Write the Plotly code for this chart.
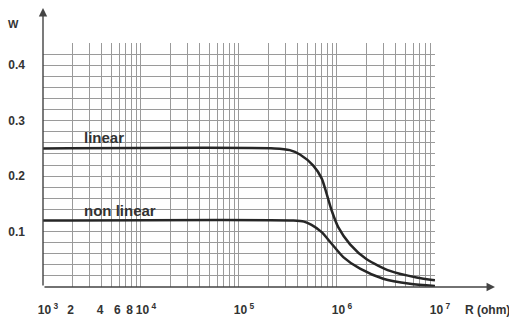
import plotly.graph_objects as go

# ---- data ----
R_linear = [1e3, 2.3e5, 3.3e5, 4.19e5, 5.73e5, 6.98e5, 7.85e5, 8.83e5, 1.03e6,
            1.36e6, 2.01e6, 3.48e6, 6.5e6, 1e7]
W_linear = [0.25, 0.25, 0.247, 0.239, 0.219, 0.196, 0.168, 0.138, 0.108,
            0.077, 0.050, 0.029, 0.017, 0.012]

R_nonlinear = [1e3, 3.6e5, 4.6e5, 5.5e5, 6.98e5, 8.83e5, 1.16e6, 1.72e6, 2.96e6, 5.56e6, 1e7]
W_nonlinear = [0.12, 0.12, 0.118, 0.112, 0.099, 0.078, 0.054, 0.033, 0.015, 0.006, 0.002]

# grid / minor tick values and labels
x_tickvals = [d * 10 ** k for k in range(3, 7) for d in range(1, 10)] + [1e7]
x_minor_labels = {2e3: "2", 4e3: "4", 6e3: "6", 8e3: "8"}
# decade labels
x_decades = [1e3, 1e4, 1e5, 1e6, 1e7]
x_decade_text = ["10<sup>3</sup>", "10<sup>4</sup>", "10<sup>5</sup>",
                 "10<sup>6</sup>", "10<sup>7</sup>"]

y_tickvals = [round(i * 0.02, 2) for i in range(0, 23)]
y_labels = {0.1: "0.1", 0.2: "0.2", 0.3: "0.3", 0.4: "0.4"}
y_ticktext = [y_labels.get(v, "") for v in y_tickvals]

FONT = "Liberation Sans, Arial, sans-serif"
TXT = "#333333"
LINE = "#262626"
GRID = "#9a9a9a"


def bold(t):
    return "<b>%s</b>" % t if t else ""


fig = go.Figure()
fig.add_trace(go.Scatter(x=R_linear, y=W_linear, mode="lines",
                         line=dict(color=LINE, width=2.5, shape="spline", smoothing=0.7),
                         name="linear", showlegend=False, hoverinfo="skip"))
fig.add_trace(go.Scatter(x=R_nonlinear, y=W_nonlinear, mode="lines",
                         line=dict(color=LINE, width=2.5, shape="spline", smoothing=0.7),
                         name="non linear", showlegend=False, hoverinfo="skip"))
# invisible helper trace so the decade-label axis is drawn
fig.add_trace(go.Scatter(x=R_linear[:1], y=W_linear[:1], xaxis="x2", yaxis="y",
                         mode="markers", marker=dict(opacity=0, size=1),
                         showlegend=False, hoverinfo="skip"))

x_ticktext = []
for v in x_tickvals:
    lab = ""
    for k, t in x_minor_labels.items():
        if abs(v - k) < 1e-6 * k:
            lab = t
    x_ticktext.append(bold(lab))

fig.update_layout(
    width=509, height=319,
    margin=dict(l=43, r=74, t=43, b=32, autoexpand=False),
    paper_bgcolor="white", plot_bgcolor="white",
    font=dict(family=FONT, color=TXT, size=12),
    xaxis=dict(type="log", range=[3, 7.0005], tickvals=x_tickvals,
               ticktext=x_ticktext, tickangle=0, automargin=False,
               showgrid=True, gridcolor=GRID, gridwidth=1, zeroline=False,
               showline=False, ticks="", ticklabelstandoff=14, ticklabelshift=-2,
               tickfont=dict(family=FONT, size=12, color=TXT)),
    xaxis2=dict(type="log", range=[3, 7.0005], overlaying="x", anchor="y", side="bottom",
                tickvals=x_decades,
                ticktext=[bold(t.replace("<sup>", "\u2009<sup>")) for t in x_decade_text],
                tickangle=0, automargin=False, showgrid=False, zeroline=False,
                showline=False, ticks="", ticklabelstandoff=14, ticklabelshift=5,
                tickfont=dict(family=FONT, size=12, color=TXT)),
    yaxis=dict(range=[0, 0.4402], tickvals=y_tickvals, automargin=False,
               ticktext=[bold(t) for t in y_ticktext],
               showgrid=True, gridcolor=GRID, gridwidth=1, zeroline=False,
               showline=False, ticks="", ticklabelstandoff=17,
               tickfont=dict(family=FONT, size=12, color=TXT)),
)

ann = []
# axis arrows
ann.append(dict(x=0, y=1.143, xref="paper", yref="paper", ax=0, ay=279,
                axref="pixel", ayref="pixel", text="", showarrow=True,
                arrowhead=2, arrowsize=1.2, arrowwidth=1.4, arrowcolor="#444444"))
ann.append(dict(x=1.153, y=0, xref="paper", yref="paper", ax=-452, ay=0,
                text="", showarrow=True,
                arrowhead=2, arrowsize=1.2, arrowwidth=1.4, arrowcolor="#444444"))
# labels
ann.append(dict(x=-0.0765, y=1.078, xref="paper", yref="paper", text=bold("W"),
                showarrow=False, xanchor="center", yanchor="middle",
                font=dict(family=FONT, size=11, color=TXT)))
ann.append(dict(x=1.071, y=-0.094, xref="paper", yref="paper", text=bold("R (ohm)"),
                showarrow=False, xanchor="left", yanchor="middle",
                font=dict(family=FONT, size=12, color=TXT)))
ann.append(dict(x=0.0995, y=0.27, xref="paper", yref="y", text=bold("linear"),
                showarrow=False, xanchor="left", yanchor="middle",
                font=dict(family=FONT, size=15, color=TXT)))
ann.append(dict(x=0.0995, y=0.138, xref="paper", yref="y", text=bold("non linear"),
                showarrow=False, xanchor="left", yanchor="middle",
                font=dict(family=FONT, size=15, color=TXT)))
fig.update_layout(annotations=ann)

fig.write_html("out.html", config={"displayModeBar": False},
               post_script="document.body.style.margin='0';document.body.style.overflow='hidden';")
